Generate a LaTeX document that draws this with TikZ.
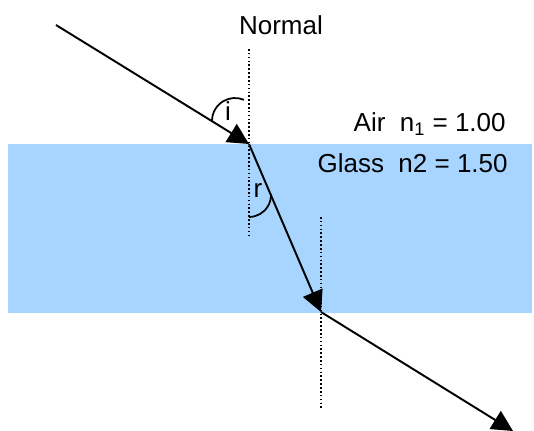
\documentclass[tikz,border=0pt]{standalone}
\usepackage{fontspec}
\setmainfont{Liberation Sans}
\usepackage{tikz}
\usetikzlibrary{arrows.meta, positioning, calc}
\definecolor{glassblue}{RGB}{168,213,255}
\definecolor{raydark}{RGB}{0,0,0}
\tikzset{
  ray/.style={-{Triangle[length=0.42cm, width=0.42cm]}, line width=1.1pt, color=raydark},
  normline/.style={line width=0.8pt, dash pattern=on 0.9pt off 1.3pt, color=raydark},
  angarc/.style={line width=1.0pt, color=raydark},
  lbl/.style={font=\fontsize{14.8}{17}\selectfont, inner sep=0pt}
}

\begin{document}
\begin{tikzpicture}[x=0.02cm, y=0.02cm]
  \useasboundingbox (0,0) rectangle (534,430);

  % --- Glass slab ---
  \fill[glassblue] (8,117) rectangle (532,286);

  % --- Points on the rays ---
  \coordinate (src) at (56,405);
  \coordinate (P) at (249,286);
  \coordinate (Q) at (321,118);
  \coordinate (exit) at (513,-1);

  % --- Normals ---
  \coordinate (N1top) at (249,381);
  \coordinate (N1bot) at (249,192);
  \coordinate (N2top) at (321,213);
  \coordinate (N2bot) at (321,22);
  \draw[normline] (N1top) -- (N1bot);
  \draw[normline] (N2top) -- (N2bot);
  \node[lbl, anchor=base] (normal) at (281,395) {Normal};

  % --- Rays ---
  \draw[ray] (src) -- (P);
  \draw[ray] (P) -- (Q);
  \draw[ray] (Q) -- (exit);

  % --- Angles ---
  \coordinate (iA) at (212,309);
  \draw[angarc] (iA) arc[start angle=180, end angle=67, radius=0.46cm];
  \node[lbl, anchor=base] (lbli) at (228,310) {i};
  \coordinate (rA) at (249,213);
  \draw[angarc] (rA) arc[start angle=-90, end angle=2, radius=0.44cm];
  \node[lbl, anchor=base] (lblr) at (258,233) {r};

  % --- Media ---
  \node[lbl, anchor=base east] (air) at (506,298) {Air\ \ n\textsubscript{1} = 1.00};
  \node[lbl, anchor=base east] (glass) at (508,257) {Glass\ \ n2 = 1.50};
\end{tikzpicture}
\end{document}
